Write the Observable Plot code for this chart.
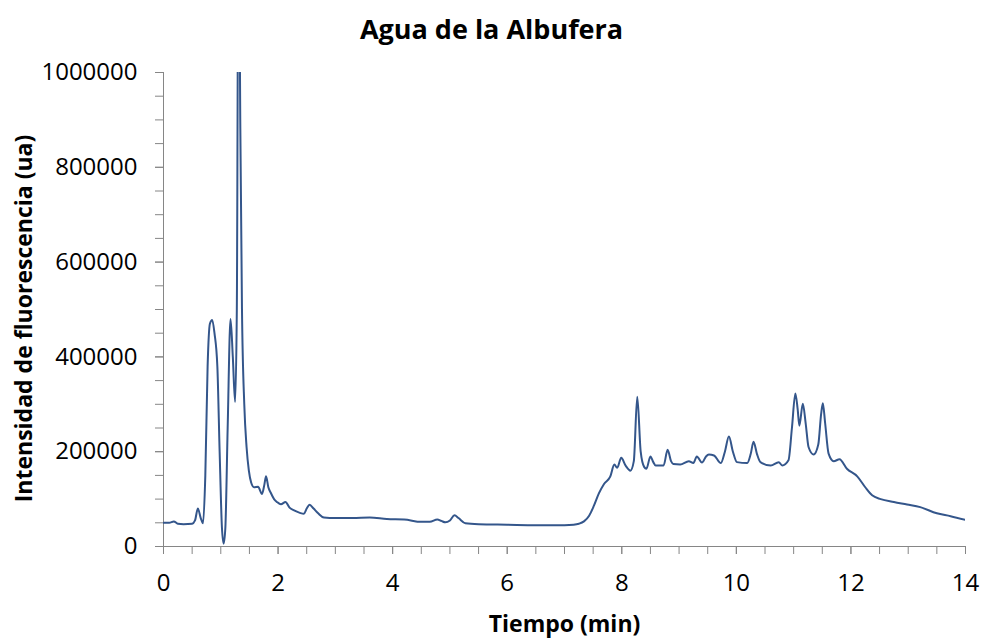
<!DOCTYPE html>
<html>
<head>
<meta charset="utf-8">
<script src="https://cdn.jsdelivr.net/npm/d3@7"></script>
<script src="https://cdn.jsdelivr.net/npm/@observablehq/plot@0.6"></script>
<style>
  html, body { margin: 0; padding: 0; background: #fff; }
  #title { height: 50px; width: 983px; text-align: center; font-family: "Open Sans", sans-serif; font-weight: bold; font-size: 27px; line-height: 57px; color: #000; overflow: visible; }
  #chart svg { display: block; }
</style>
</head>
<body>
<div id="title">Agua de la Albufera</div>
<div id="chart"></div>
<script>
const tiempo = [0.00,0.10,0.18,0.25,0.35,0.50,0.55,0.60,0.65,0.69,0.73,0.77,0.81,0.85,0.89,0.94,0.98,1.02,1.05,1.08,1.12,1.17,1.21,1.25,1.28,1.31,1.34,1.37,1.41,1.45,1.49,1.53,1.58,1.65,1.72,1.76,1.79,1.83,1.87,1.93,1.98,2.05,2.13,2.20,2.28,2.38,2.45,2.50,2.55,2.62,2.70,2.80,2.90,3.00,3.30,3.60,3.90,4.20,4.50,4.65,4.78,4.85,4.92,5.00,5.08,5.15,5.27,5.50,6.00,6.50,7.00,7.16,7.25,7.34,7.43,7.51,7.60,7.69,7.80,7.87,7.92,7.99,8.07,8.15,8.21,8.27,8.33,8.39,8.43,8.50,8.55,8.59,8.73,8.80,8.86,8.90,9.02,9.17,9.25,9.31,9.40,9.47,9.52,9.61,9.73,9.80,9.87,9.94,10.01,10.19,10.25,10.30,10.36,10.42,10.60,10.74,10.80,10.91,10.97,11.03,11.07,11.10,11.16,11.21,11.26,11.35,11.43,11.48,11.51,11.55,11.61,11.70,11.80,11.93,12.11,12.25,12.37,12.52,12.75,12.98,13.21,13.50,13.74,14.00];
const intensidad = [50000,50000,53000,48000,47000,48000,55000,80000,60000,49000,150000,380000,470000,478000,450000,380000,200000,40000,6000,40000,250000,480000,400000,305000,500000,1400000,900000,500000,300000,210000,160000,135000,125000,126000,111000,130000,148000,125000,114000,100000,94000,89000,94000,82000,76000,71000,69000,80000,88000,80000,70000,61000,60000,60000,60000,61000,58000,57000,52000,52000,57000,54000,51000,55000,66000,60000,49000,47000,46000,45000,45000,46000,48000,53000,65000,85000,112000,132000,148000,173000,166000,187000,170000,160000,180000,316000,200000,168000,164000,190000,178000,171000,171000,204000,180000,174000,173000,180000,176000,190000,177000,190000,194000,192000,176000,200000,232000,200000,178000,176000,195000,221000,195000,178000,171000,178000,171000,182000,250000,323000,290000,255000,301000,260000,210000,194000,215000,280000,302000,260000,196000,180000,184000,164000,148000,125000,108000,100000,94000,88600,83000,70000,64000,56000];
const xTicks = [0,2,4,6,8,10,12,14];
const yTicks = [0,200000,400000,600000,800000,1000000];

const data = tiempo.map((t, i) => ({t, v: intensidad[i]}));
const axisColor = "#868686";
const lineColor = "#34568b";
const font = "Open Sans, sans-serif";

const chart = Plot.plot({
  width: 983,
  height: 589,
  marginLeft: 163,
  marginRight: 18,
  marginTop: 22,
  marginBottom: 93,
  style: {fontFamily: font, fontSize: "24px", color: "#000", background: "#fff"},
  x: {domain: [0, 14]},
  y: {domain: [0, 1000000]},
  marks: [
    Plot.axisY({ticks: d3.range(0, 1000001, 50000), tickFormat: () => "", tickSize: 8, stroke: axisColor, label: null}),
    Plot.axisY({ticks: yTicks, tickFormat: d => String(d), tickSize: 8, tickPadding: 18, stroke: axisColor, fill: "#000", fontSize: 24, label: null}),
    Plot.axisX({ticks: d3.range(0, 14.01, 0.5), tickFormat: () => "", tickSize: 8, stroke: axisColor, label: null}),
    Plot.axisX({ticks: xTicks, tickFormat: d => String(d), tickSize: 8, tickPadding: 19, stroke: axisColor, fill: "#000", fontSize: 24, label: null}),
    Plot.ruleX([0], {stroke: axisColor}),
    Plot.ruleY([0], {stroke: axisColor}),
    Plot.line(data, {x: "t", y: "v", stroke: lineColor, strokeWidth: 2, curve: "monotone-x", clip: true}),
    Plot.text(["Intensidad de fluorescencia (ua)"], {frameAnchor: "left", textAnchor: "middle", dx: -139, dy: 9, rotate: -90, fontWeight: "bold", fontSize: 23, fill: "#000"}),
    Plot.text(["Tiempo (min)"], {frameAnchor: "bottom", dy: 85, fontWeight: "bold", fontSize: 23, fill: "#000"})
  ]
});
document.getElementById("chart").appendChild(chart);
</script>
</body>
</html>
